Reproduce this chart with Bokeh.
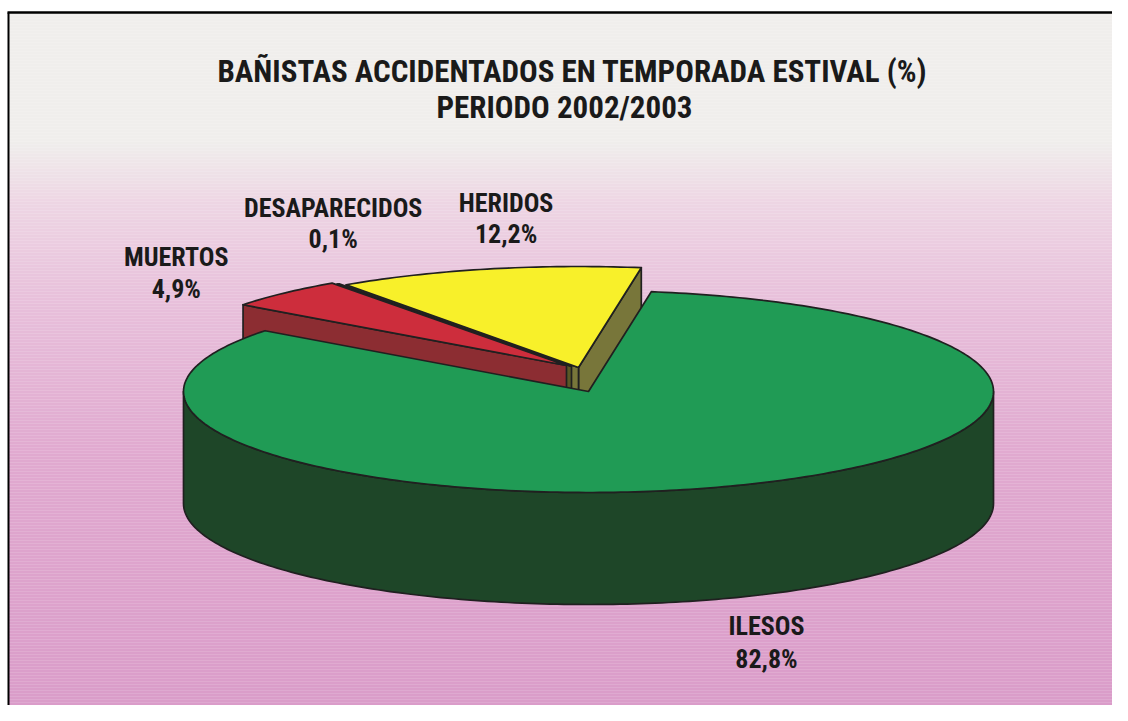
import numpy as np
from bokeh.plotting import figure
from bokeh.models import Range1d
from bokeh.core.properties import value
from bokeh.embed import file_html
from bokeh.resources import INLINE

# ---------------- data ----------------
categories = ["MUERTOS", "DESAPARECIDOS", "HERIDOS", "ILESOS"]
percentages = [4.9, 0.1, 12.2, 82.8]
value_labels = ["4,9%", "0,1%", "12,2%", "82,8%"]
title_lines = ["BAÑISTAS ACCIDENTADOS EN TEMPORADA ESTIVAL (%)", "PERIODO 2002/2003"]

# ---------------- style / layout ----------------
W, H = 1112, 705
top_colors = ["#cd2d3c", "#6f6d2c", "#f8f02a", "#209b55"]
side_colors = ["#8c2d32", "#5a5826", "#78763a", "#1e4628"]
explode = [(-22, -26), (-17, -25), (-10, -24), (0, 0)]
label_offsets = [(-108, -36), (-5, -76), (19, -66), (26, 29)]
value_gaps = [32, 31, 31, 33]
CX, CY, RX, RY, DEPTH = 588, 391, 405, 101, 112
START_ANGLE = 143.0
FONT = "'Noto Sans Condensed', 'Roboto Condensed', 'Liberation Sans Narrow', 'Liberation Sans'"
TEXT_COLOR = "#1a1a1a"
EDGE = "#202020"

bg_stop_y = [0, 140, 200, 300, 450, 721]
bg_stop_c = [(240, 239, 236), (240, 238, 236), (238, 214, 228),
             (232, 192, 219), (225, 170, 208), (218, 156, 201)]

p = figure(width=W, height=H, x_range=Range1d(0, W), y_range=Range1d(H, 0),
           output_backend="svg", toolbar_location=None, min_border=0,
           x_axis_location=None, y_axis_location=None)
p.grid.visible = False
p.outline_line_color = None
p.background_fill_color = "white"
p.border_fill_color = "white"

# ---- gradient background (strips) ----
ys = np.arange(12, H, 3)
cols = []
for y in ys:
    r = np.interp(y, bg_stop_y, [c[0] for c in bg_stop_c])
    g = np.interp(y, bg_stop_y, [c[1] for c in bg_stop_c])
    b = np.interp(y, bg_stop_y, [c[2] for c in bg_stop_c])
    cols.append("#%02x%02x%02x" % (int(r), int(g), int(b)))
p.quad(left=8, right=W, top=ys, bottom=ys + 3.2, fill_color=cols, line_color=None)

# frame lines (top and left)
p.line(x=[7, W], y=[12, 12], line_color="black", line_width=2.5)
p.line(x=[8, 8], y=[12, H], line_color="black", line_width=2)

# ---- 3D pie geometry ----
def arc(lo, hi):
    n = max(2, int(abs(hi - lo) / 1.0) + 2)
    return np.radians(np.linspace(lo, hi, n))

def pt(t, off, z=0.0):
    return CX + off[0] + RX * np.cos(t), CY + off[1] - RY * np.sin(t) + z

spans = np.array(percentages) / sum(percentages) * 360.0
his = START_ANGLE - np.concatenate([[0.0], np.cumsum(spans)[:-1]])
los = his - spans
mids = (los + his) / 2.0

order = sorted(range(len(percentages)), key=lambda i: -np.sin(np.radians(mids[i])))

xs_all, ys_all, fills = [], [], []

def add(xx, yy, c):
    xs_all.append(list(np.asarray(xx, dtype=float)))
    ys_all.append(list(np.asarray(yy, dtype=float)))
    fills.append(c)

for i in order:
    lo, hi, off = los[i], his[i], explode[i]
    ax, ay = CX + off[0], CY + off[1]
    # radial faces
    for th, visible in ((lo, np.cos(np.radians(lo)) > 0), (hi, np.cos(np.radians(hi)) < 0)):
        if visible:
            t = np.radians(th)
            rx, ry = pt(t, off)
            add([ax, rx, rx, ax], [ay, ry, ry + DEPTH, ay + DEPTH], side_colors[i])
    # outer rim (front half only)
    for k in (-1, 0, 1):
        a = max(lo, -180 + 360 * k)
        b = min(hi, 360 * k)
        if b > a:
            t = arc(a, b)
            tx, ty = pt(t, off)
            bx, by = pt(t[::-1], off, DEPTH)
            add(np.concatenate([tx, bx]), np.concatenate([ty, by]), side_colors[i])
    # top face
    t = arc(lo, hi)
    tx, ty = pt(t, off)
    add(np.concatenate([[ax], tx]), np.concatenate([[ay], ty]), top_colors[i])

p.patches(xs=xs_all, ys=ys_all, fill_color=fills, line_color=EDGE, line_width=1.7,
          line_join="round")

# ---- labels ----
name_x, name_y, val_x, val_y = [], [], [], []
for i in range(len(percentages)):
    t = np.radians(mids[i])
    rx, ry = pt(t, explode[i], DEPTH if np.sin(t) < 0 else 0.0)
    nx, ny = rx + label_offsets[i][0], ry + label_offsets[i][1]
    name_x.append(nx); name_y.append(ny)
    val_x.append(nx); val_y.append(ny + value_gaps[i])

p.text(x=name_x, y=name_y, text=categories, text_font=value(FONT), text_font_style="bold",
       text_font_size="26px", text_align="center", text_baseline="middle", text_color=TEXT_COLOR)
p.text(x=val_x, y=val_y, text=value_labels, text_font=value(FONT), text_font_style="bold",
       text_font_size="26px", text_align="center", text_baseline="middle", text_color=TEXT_COLOR)

# ---- title ----
p.text(x=[572, 564], y=[71, 107], text=title_lines, text_font=value(FONT),
       text_font_style="bold", text_font_size="31px", text_align="center",
       text_baseline="middle", text_color=TEXT_COLOR)

open("out.html", "w").write(file_html(p, INLINE))
